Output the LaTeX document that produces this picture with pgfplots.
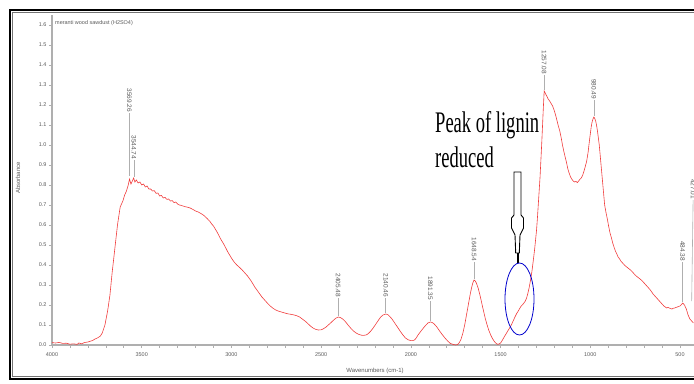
\documentclass[border=0pt]{standalone}
\usepackage{pgfplots}
\pgfplotsset{compat=1.18}
\usepackage{fontspec}
\setmainfont{Liberation Sans}
\newfontfamily\serifann{Liberation Serif}
\definecolor{specred}{RGB}{240,60,60}
\definecolor{axgray}{RGB}{175,175,175}
\definecolor{lblgray}{RGB}{90,90,90}
\begin{document}
\begin{tikzpicture}[x=1bp,y=1bp]
\useasboundingbox (0,0) rectangle (694,383);
\clip (0,0) rectangle (694,383);
% outer frame
\draw[line width=1.3bp,black] (10,4) rectangle (760,373);
\draw[line width=1.0bp,black!55] (12.5,6.5) rectangle (760,370.5);
\begin{axis}[
  at={(52bp,38bp)}, anchor=south west, scale only axis,
  width=642bp, height=330bp,
  x dir=reverse, xmin=422, xmax=4000, ymin=0, ymax=1.65,
  axis x line*=bottom, axis y line*=left,
  axis line style={axgray, line width=1.3bp},
  xtick={500,1000,1500,2000,2500,3000,3500,4000},
  minor xtick={600,700,800,900,1100,1200,1300,1400,1600,1700,1800,1900,2100,2200,2300,2400,2600,2700,2800,2900,3100,3200,3300,3400,3600,3700,3800,3900},
  ytick={0,0.1,0.2,0.3,0.4,0.5,0.6,0.7,0.8,0.9,1.0,1.1,1.2,1.3,1.4,1.5,1.6},
  yticklabel style={/pgf/number format/fixed, /pgf/number format/fixed zerofill, /pgf/number format/precision=1, xshift=1bp},
  xticklabel style={/pgf/number format/1000 sep={}, yshift=-1bp},
  /pgf/number format/assume math mode=true,
  tick align=outside, major tick length=3bp, minor tick length=2.5bp,
  tick style={axgray, line width=0.6bp},
  ticklabel style={font=\fontsize{5.5}{6}\selectfont, text=lblgray},
  clip=false,
]
\addplot[specred, line width=0.6bp, mark=none] coordinates {
(4000,0.012) (3980,0.010) (3960,0.013) (3940,0.008) (3920,0.009) (3900,0.004)
(3880,0.006) (3860,0.003) (3850,0.010) (3835,0.006) (3820,0.012) (3800,0.015)
(3790,0.018) (3775,0.022) (3760,0.030) (3745,0.036) (3730,0.045) (3720,0.060)
(3705,0.10) (3690,0.17) (3677,0.25) (3665,0.36) (3650,0.48) (3635,0.60)
(3620,0.69) (3605,0.72) (3595,0.75) (3585,0.77) (3575,0.80) (3568,0.83)
(3560,0.805) (3552,0.82) (3545,0.835) (3538,0.815) (3530,0.825) (3520,0.81)
(3510,0.815) (3500,0.80) (3490,0.805) (3480,0.79) (3470,0.795) (3460,0.78)
(3450,0.78) (3440,0.77) (3430,0.772) (3420,0.758) (3410,0.760) (3400,0.745)
(3390,0.748) (3380,0.735) (3370,0.738) (3360,0.728) (3350,0.730) (3340,0.720)
(3330,0.722) (3320,0.712) (3310,0.715) (3300,0.705) (3290,0.700) (3280,0.698)
(3270,0.695) (3260,0.692) (3250,0.690) (3240,0.688) (3230,0.685) (3215,0.678)
(3200,0.670) (3185,0.665) (3175,0.660) (3160,0.652) (3150,0.645) (3135,0.632)
(3120,0.618) (3110,0.605) (3100,0.595) (3080,0.565) (3060,0.530) (3040,0.500)
(3020,0.465) (3000,0.435) (2985,0.415) (2970,0.400) (2955,0.388) (2940,0.375)
(2925,0.360) (2910,0.345) (2890,0.320) (2870,0.290) (2850,0.265) (2830,0.240)
(2815,0.225) (2800,0.210) (2785,0.196) (2770,0.185) (2755,0.176) (2740,0.170)
(2725,0.166) (2710,0.162) (2695,0.158) (2680,0.155) (2665,0.153) (2650,0.150)
(2635,0.146) (2620,0.140) (2605,0.130) (2590,0.120) (2575,0.108) (2560,0.095)
(2545,0.085) (2530,0.078) (2515,0.075) (2500,0.076) (2490,0.080) (2475,0.088)
(2460,0.100) (2445,0.112) (2430,0.125) (2418,0.134) (2405,0.140) (2392,0.137)
(2380,0.130) (2365,0.117) (2350,0.100) (2335,0.084) (2320,0.070) (2305,0.060)
(2290,0.053) (2275,0.049) (2265,0.048) (2250,0.050) (2240,0.055) (2225,0.068)
(2210,0.085) (2195,0.105) (2180,0.125) (2168,0.140) (2155,0.150) (2140,0.155)
(2128,0.152) (2120,0.145) (2105,0.130) (2090,0.110) (2075,0.090) (2060,0.070)
(2045,0.051) (2030,0.035) (2015,0.026) (2000,0.022) (1990,0.022) (1980,0.025)
(1970,0.035) (1960,0.050) (1945,0.068) (1930,0.085) (1918,0.098) (1905,0.110)
(1891,0.115) (1880,0.112) (1870,0.105) (1855,0.090) (1840,0.070) (1825,0.052)
(1810,0.035) (1795,0.020) (1780,0.008) (1765,0.003) (1750,0.000) (1740,0.002)
(1730,0.012) (1720,0.030) (1710,0.060) (1700,0.100) (1690,0.150) (1680,0.200)
(1670,0.250) (1662,0.285) (1655,0.310) (1648,0.325) (1641,0.320) (1635,0.310)
(1625,0.285) (1615,0.250) (1605,0.210) (1595,0.170) (1585,0.132) (1575,0.100)
(1565,0.072) (1555,0.050) (1545,0.032) (1535,0.018) (1525,0.008) (1515,0.003)
(1507,0.006) (1500,0.010) (1490,0.024) (1480,0.040) (1470,0.055) (1460,0.070)
(1450,0.085) (1440,0.100) (1430,0.120) (1420,0.140) (1410,0.158) (1400,0.172)
(1392,0.185) (1385,0.195) (1377,0.202) (1370,0.210) (1362,0.220) (1355,0.235)
(1348,0.258) (1340,0.290) (1332,0.330) (1325,0.370) (1318,0.420) (1310,0.480)
(1305,0.525) (1300,0.570) (1295,0.630) (1290,0.700) (1285,0.770) (1280,0.840)
(1275,0.930) (1270,1.020) (1266,1.100) (1262,1.180) (1257,1.270) (1252,1.262)
(1246,1.250) (1240,1.240) (1235,1.230) (1228,1.222) (1220,1.210) (1210,1.195)
(1200,1.170) (1192,1.145) (1185,1.120) (1178,1.095) (1170,1.070) (1162,1.035)
(1155,1.000) (1148,0.970) (1140,0.940) (1132,0.910) (1125,0.880) (1118,0.860)
(1110,0.840) (1102,0.828) (1095,0.820) (1088,0.815) (1080,0.818) (1072,0.812)
(1065,0.820) (1058,0.828) (1050,0.835) (1042,0.850) (1035,0.870) (1028,0.892)
(1020,0.920) (1012,0.965) (1005,1.020) (1000,1.055) (995,1.090) (990,1.115)
(985,1.130) (980,1.140) (975,1.132) (970,1.120) (965,1.098) (960,1.070)
(955,1.035) (950,1.000) (945,0.950) (940,0.900) (935,0.850) (930,0.800)
(925,0.750) (920,0.700) (912,0.660) (905,0.630) (898,0.595) (890,0.560)
(882,0.535) (875,0.510) (868,0.490) (860,0.470) (852,0.455) (845,0.440)
(838,0.432) (830,0.420) (820,0.410) (810,0.400) (800,0.392) (790,0.385)
(780,0.378) (770,0.370) (760,0.360) (750,0.350) (740,0.342) (730,0.335)
(720,0.328) (710,0.320) (700,0.310) (690,0.300) (680,0.290) (670,0.280)
(660,0.268) (650,0.255) (640,0.245) (630,0.235) (620,0.225) (610,0.215)
(600,0.205) (590,0.195) (582,0.190) (575,0.185) (567,0.188) (560,0.185)
(552,0.182) (545,0.180) (537,0.184) (530,0.185) (522,0.188) (515,0.190)
(507,0.193) (500,0.195) (492,0.202) (485,0.210) (480,0.205) (475,0.200)
(470,0.190) (465,0.180) (460,0.165) (455,0.150) (450,0.140) (445,0.130)
(440,0.125) (435,0.120) (430,0.115) (425,0.110)
};
% peak markers
\begin{scope}[every node/.style={rotate=-90, anchor=east, inner sep=0.5bp, font=\fontsize{6.5}{7}\selectfont, text=lblgray}]
\draw[axgray, line width=0.6bp] (axis cs:3569,0.845) -- (axis cs:3569,1.16) node {3569.26};
\draw[axgray, line width=0.6bp] (axis cs:3544,0.84) -- (axis cs:3544,0.925) node {3544.74};
\draw[axgray, line width=0.6bp] (axis cs:2405,0.145) -- (axis cs:2405,0.235) node {2405.48};
\draw[axgray, line width=0.6bp] (axis cs:2140,0.16) -- (axis cs:2140,0.235) node {2140.46};
\draw[axgray, line width=0.6bp] (axis cs:1891,0.12) -- (axis cs:1891,0.22) node {1891.35};
\draw[axgray, line width=0.6bp] (axis cs:1648,0.33) -- (axis cs:1648,0.415) node {1648.54};
\draw[axgray, line width=0.6bp] (axis cs:1257,1.275) -- (axis cs:1257,1.35) node {1257.08};
\draw[axgray, line width=0.6bp] (axis cs:980,1.145) -- (axis cs:980,1.225) node {980.49};
\draw[axgray, line width=0.6bp] (axis cs:485,0.215) -- (axis cs:485,0.415) node {484.38};
\draw[axgray, line width=0.6bp] (axis cs:435,0.22) -- (axis cs:427,0.725) node {427.01};
\end{scope}
\end{axis}
% title, axis labels
\node[anchor=west, inner sep=0pt, font=\fontsize{5.5}{6}\selectfont, text=lblgray] at (55,360) {meranti wood sawdust (H2SO4)};
\node[rotate=90, inner sep=0pt, font=\fontsize{6}{7}\selectfont, text=lblgray] at (18,205) {Absorbance};
\node[inner sep=0pt, font=\fontsize{6}{7}\selectfont, text=lblgray] at (375,12) {Wavenumbers (cm-1)};
% annotation
\node[anchor=base west, inner sep=0pt] at (435,251) {\scalebox{0.62}[1]{\serifann\fontsize{30}{34}\selectfont Peak of lignin}};
\node[anchor=base west, inner sep=0pt] at (435,216) {\scalebox{0.62}[1]{\serifann\fontsize{30}{34}\selectfont reduced}};
\draw[black, line width=0.9bp] (514,211) -- (521,211) -- (521,168) -- (523.5,165) -- (523.5,155) -- (520,148) -- (519.3,130) -- (515.7,130) -- (515,148) -- (511.5,155) -- (511.5,165) -- (514,168) -- cycle;
\draw[black, line width=2bp] (517.5,130) -- (517.5,120);
\draw[blue!80!black, line width=0.8bp] (519.5,84) ellipse [x radius=14.5, y radius=36];
\end{tikzpicture}
\end{document}
